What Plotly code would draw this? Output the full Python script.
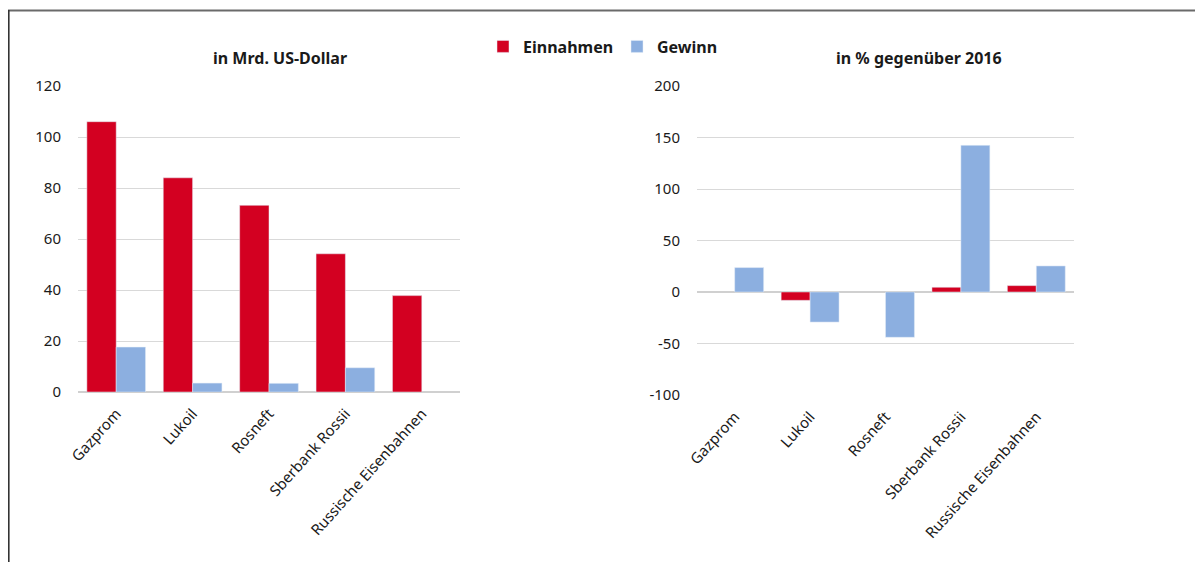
import plotly.graph_objects as go

categories = ["Gazprom", "Lukoil", "Rosneft", "Sberbank Rossii", "Russische Eisenbahnen"]

# Left: in Mrd. US-Dollar
einnahmen_usd = [106, 84, 73.2, 54.2, 37.8]
gewinn_usd = [17.6, 3.5, 3.4, 9.5, None]

# Right: in % gegenüber 2016
einnahmen_pct = [None, -8.1, None, 4.6, 6.2]
gewinn_pct = [23.7, -29.2, -44, 142.4, 25.3]

left_ticks = [0, 20, 40, 60, 80, 100, 120]
right_ticks = [-100, -50, 0, 50, 100, 150, 200]
right_ticktext = ["-100", "-50", "0", "50", "100", "150", "200"]

RED = "#d30021"
BLUE = "#8cafe0"
FONT = "Noto Sans"
W, H = 1203, 562
O = 8  # page body margin offset


def px(x):
    return (x - O) / W


def py(y):
    return 1 - (y - O) / H


fig = go.Figure()
fig.add_trace(go.Bar(x=categories, y=einnahmen_usd, name="Einnahmen", marker_color=RED,
                     xaxis="x", yaxis="y", legendgroup="e"))
fig.add_trace(go.Bar(x=categories, y=gewinn_usd, name="Gewinn", marker_color=BLUE,
                     xaxis="x", yaxis="y", legendgroup="g"))
fig.add_trace(go.Bar(x=categories, y=einnahmen_pct, name="Einnahmen", marker_color=RED,
                     xaxis="x2", yaxis="y2", legendgroup="e", showlegend=False))
fig.add_trace(go.Bar(x=categories, y=gewinn_pct, name="Gewinn", marker_color=BLUE,
                     xaxis="x2", yaxis="y2", legendgroup="g", showlegend=False))

axis_font = dict(family=FONT, size=15, color="#1a1a1a")
ytick_font = dict(family=FONT, size=15, color="#1a1a1a")

fig.update_layout(
    width=W, height=H, autosize=False,
    margin=dict(l=0, r=0, t=0, b=0, pad=0, autoexpand=False),
    paper_bgcolor="white", plot_bgcolor="white",
    barmode="group", bargap=0.232, bargroupgap=0,
    font=dict(family=FONT, color="#1a1a1a"),
    xaxis=dict(domain=[px(78), px(460)], anchor="y", tickangle=-48, tickfont=axis_font,
               showgrid=False, showline=False, ticks="", automargin=False,
               ticklabelstandoff=9),
    yaxis=dict(domain=[py(392), py(86)], anchor="x", range=[0, 120],
               tickvals=left_ticks, tickfont=ytick_font, gridcolor="#d9d9d9", gridwidth=1,
               zeroline=True, zerolinecolor="#d0d0d0", zerolinewidth=2, ticks="",
               showline=False, ticklabelstandoff=16, automargin=False),
    xaxis2=dict(domain=[px(697), px(1074)], anchor="y2", tickangle=-48, tickfont=axis_font,
                showgrid=False, showline=False, ticks="", automargin=False,
                ticklabelstandoff=9),
    yaxis2=dict(domain=[py(395), py(86)], anchor="x2", range=[-100, 200],
                tickvals=right_ticks, ticktext=right_ticktext, tickfont=ytick_font,
                gridcolor="#d9d9d9", gridwidth=1,
                zeroline=True, zerolinecolor="#d0d0d0", zerolinewidth=2, ticks="",
                showline=False, ticklabelstandoff=16, automargin=False),
    legend=dict(orientation="h", x=px(483), y=py(29.5), xanchor="left", yanchor="top",
                font=dict(family=FONT, size=16, color="#1a1a1a", weight="bold"),
                itemwidth=30, entrywidth=89, entrywidthmode="pixels",
                tracegroupgap=0, bgcolor="rgba(0,0,0,0)"),
    annotations=[
        dict(text="<b>in Mrd. US-Dollar</b>", x=px(280), y=py(58), xref="paper", yref="paper",
             xanchor="center", yanchor="middle",
             showarrow=False, font=dict(family=FONT, size=16, color="#1a1a1a")),
        dict(text="<b>in % gegenüber 2016</b>", x=px(919), y=py(58), xref="paper", yref="paper",
             xanchor="center", yanchor="middle",
             showarrow=False, font=dict(family=FONT, size=16, color="#1a1a1a")),
    ],
    shapes=[
        dict(type="line", xref="paper", yref="paper", x0=px(8), x1=1, y0=py(10.5), y1=py(10.5),
             line=dict(color="#6a6a6a", width=1.8)),
        dict(type="line", xref="paper", yref="paper", x0=px(8.8), x1=px(8.8), y0=0, y1=py(10),
             line=dict(color="#333333", width=1.6)),
    ],
)

fig.write_html("out.html")
